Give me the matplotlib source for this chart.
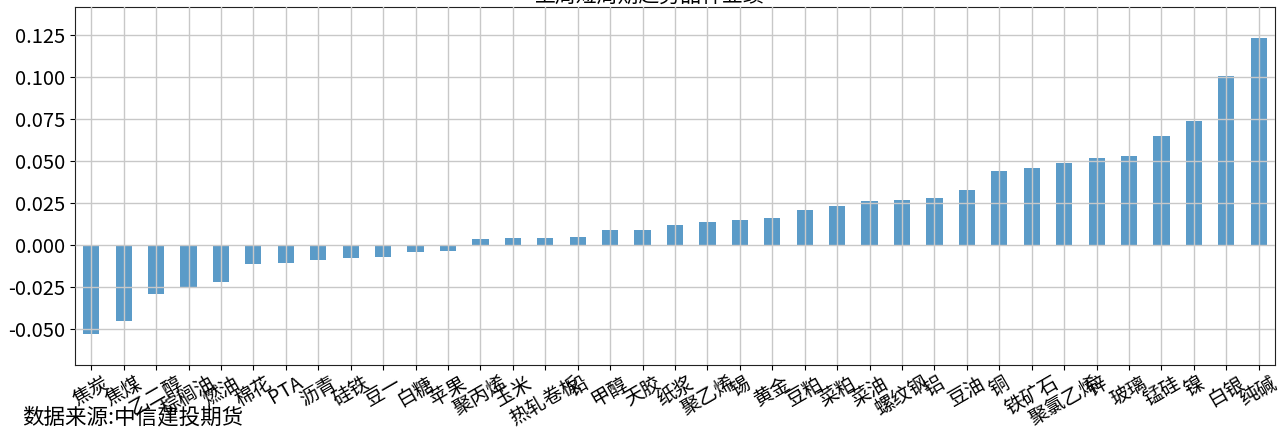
import matplotlib
matplotlib.use("Agg")
import matplotlib.pyplot as plt
import numpy as np

plt.rcParams['font.family'] = ['Noto Sans CJK SC', 'DejaVu Sans']
plt.rcParams['axes.unicode_minus'] = False

categories = ['焦炭', '焦煤', '乙二醇', '棕榈油', '燃油', '棉花', 'PTA', '沥青', '硅铁', '豆一',
              '白糖', '苹果', '聚丙烯', '玉米', '热轧卷板', '铅', '甲醇', '天胶', '纸浆', '聚乙烯',
              '锡', '黄金', '豆粕', '菜粕', '菜油', '螺纹钢', '铝', '豆油', '铜', '铁矿石',
              '聚氯乙烯', '锌', '玻璃', '锰硅', '镍', '白银', '纯碱']
values = [-0.053, -0.045, -0.029, -0.025, -0.022, -0.011, -0.0107, -0.009, -0.0077, -0.007,
          -0.004, -0.0035, 0.0035, 0.004, 0.004, 0.0047, 0.0089, 0.0089, 0.012, 0.0136,
          0.015, 0.016, 0.0207, 0.023, 0.026, 0.0266, 0.028, 0.033, 0.0438, 0.0456,
          0.049, 0.052, 0.0527, 0.0646, 0.074, 0.1007, 0.123]
title = '上周短周期趋势品种业绩'
source = '数据来源:中信建投期货'

fig = plt.figure(figsize=(12.8, 4.3), dpi=100)
ax = fig.add_axes([75/1280, 1 - 365/430, 1200/1280, 358/430])
x = np.arange(len(categories))
ax.bar(x, values, width=0.5, color='#5b9bc8')
ax.set_xlim(-0.5, len(categories) - 0.5)
ax.set_ylim(-0.0712, 0.1415)
ax.set_yticks([-0.05, -0.025, 0, 0.025, 0.05, 0.075, 0.1, 0.125])
ax.set_yticklabels(['-0.050', '-0.025', '0.000', '0.025', '0.050', '0.075', '0.100', '0.125'], fontsize=14.5)
ax.set_xticks(x)
ax.set_xticklabels(categories, rotation=30, fontsize=14)
ax.tick_params(axis='x', pad=2)
ax.grid(True, color='#c8c8c8', linewidth=1)
ax.set_axisbelow(False)
for s in ax.spines.values():
    s.set_color('#222222')
fig.text(0.508, 1 - 3/430, title, ha='center', va='baseline', fontsize=15)
fig.text(22/1280, 1 - 428/430, source, ha='left', va='bottom', fontsize=15.5)
fig.savefig('out.png', dpi=100)
